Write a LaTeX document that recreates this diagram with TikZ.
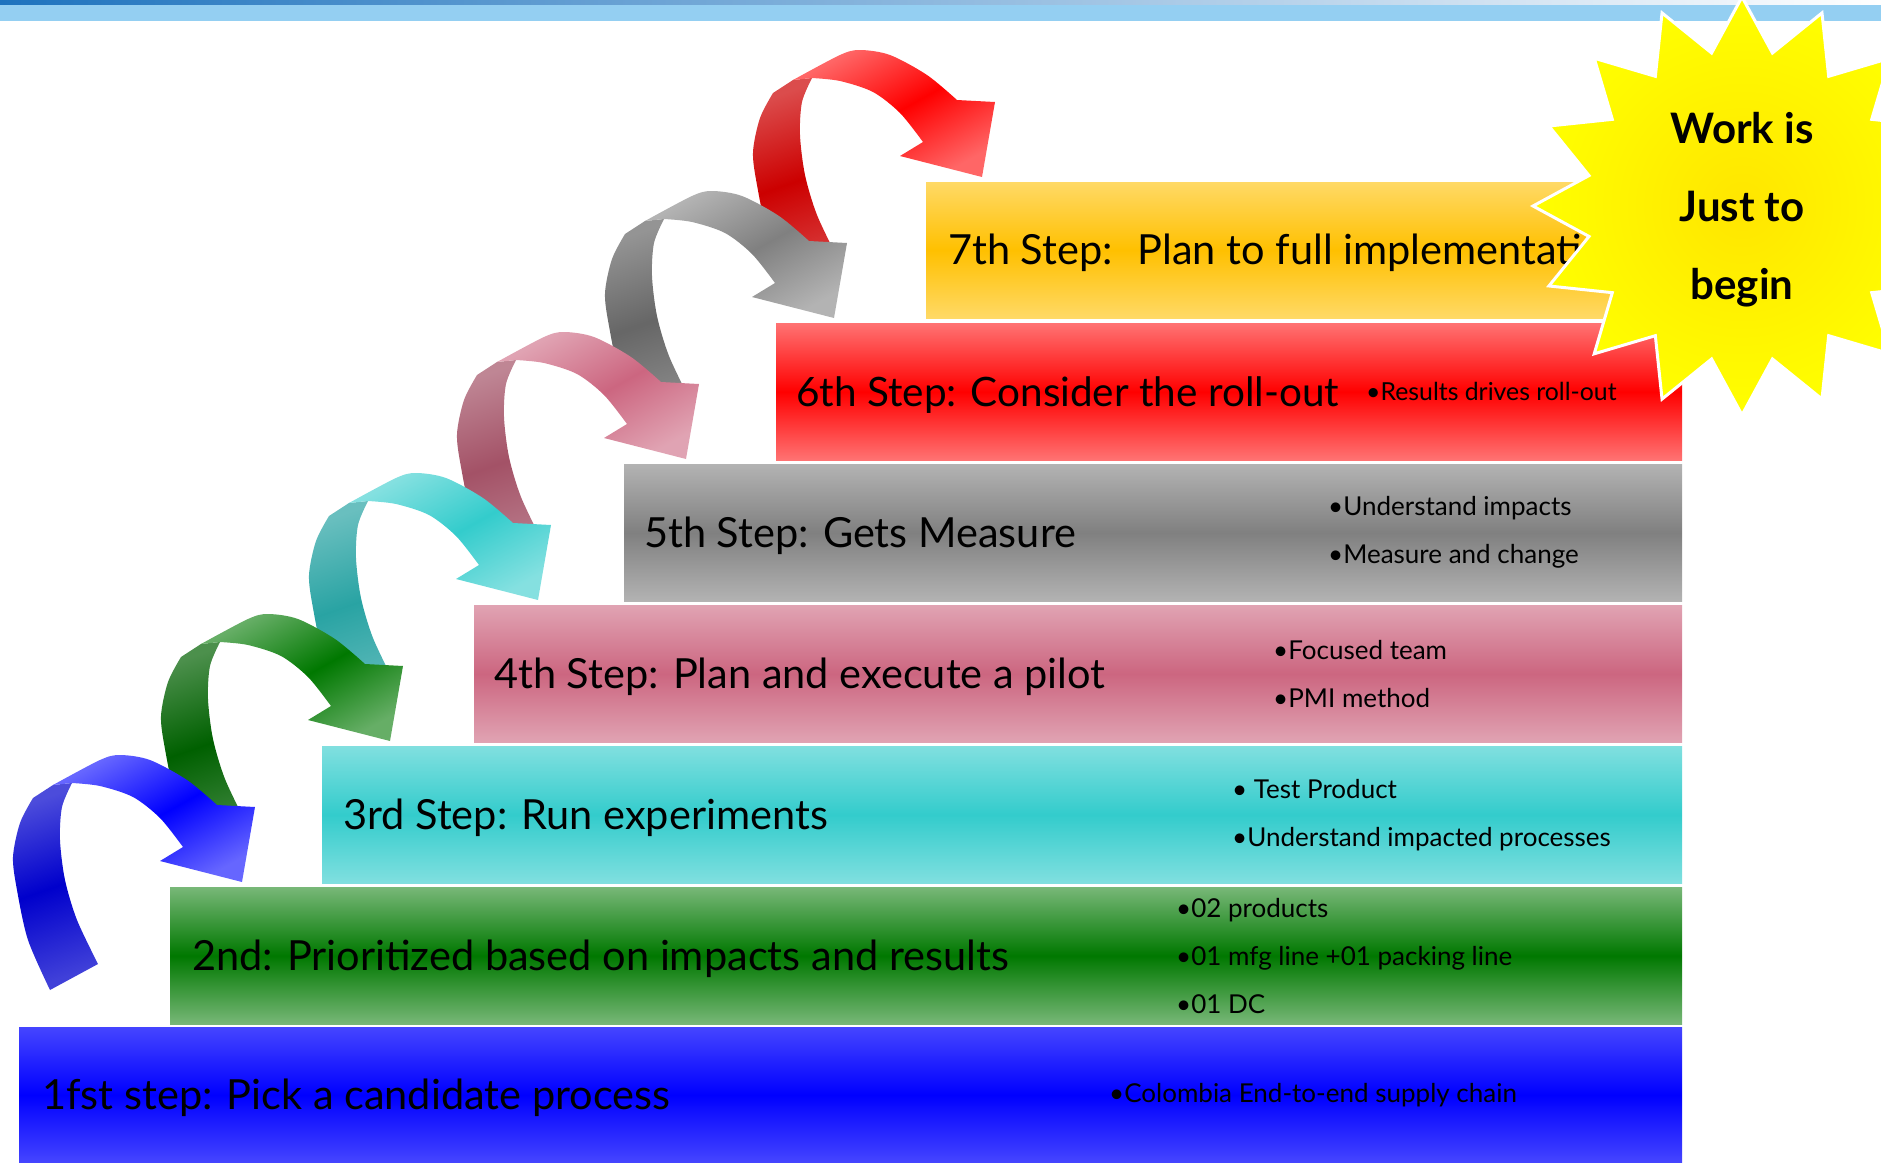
\documentclass[tikz,border=0pt]{standalone}
\usepackage{fontspec}
\setmainfont{Lato}
\usepackage{tikz}
\usepackage{xcolor}
\usetikzlibrary{shapes.geometric, positioning}

\definecolor{stepblue}{RGB}{0,0,255}
\definecolor{stepgreen}{RGB}{0,120,0}
\definecolor{stepcyan}{RGB}{51,204,204}
\definecolor{steppink}{RGB}{204,102,128}
\definecolor{stepgray}{RGB}{128,128,128}
\definecolor{stepred}{RGB}{255,0,0}
\definecolor{stepgold}{RGB}{255,192,0}
\definecolor{topblue}{RGB}{30,115,190}
\definecolor{barblue}{RGB}{148,207,242}

\tikzstyle{stepbox} = [rectangle, anchor=north west, inner sep=0, minimum height=137pt]
\tikzstyle{steptext} = [inner sep=0, yshift=-3pt, font=\fontsize{41.5}{44}\selectfont]
\tikzstyle{bullettext} = [inner sep=0, align=left, font=\fontsize{26}{48}\selectfont]
\tikzstyle{burst} = [star, star points=16, star point ratio=1.34, minimum size=418pt, draw=white, line width=3pt, inner color=yellow!80!orange, outer color=yellow]
\tikzstyle{startext} = [inner sep=0, align=center, font=\fontsize{42}{78}\selectfont\bfseries]
\tikzset{stepshade/.style 2 args={top color=#1!#2!white, bottom color=#1!#2!white, middle color=#1}}

% curled ribbon arrow: #1,#2 = anchor, #3 = colour
\newcommand{\curlyarrow}[3]{%
  \begin{scope}[shift={(#1,#2)}]
    \shade[top color=#3!80!black!70!white, bottom color=#3!80!black!75!white, middle color=#3!80!black, shading angle=19]
      plot[smooth] coordinates {(-120,103) (-142,53) (-153,3) (-157,-30) (-150,-64) (-137,-89)}
      -- (-117,-102) -- (-98,-104)
      -- plot[smooth] coordinates {(-98,-104) (-108,-80) (-110,-47) (-105,-7) (-93,33) (-72,77)} -- cycle;
    \shade[top color=#3!60!white, bottom color=#3!60!white, middle color=#3, shading angle=29]
      plot[smooth] coordinates {(-117,-102) (-70,-127) (-50,-132) (-20,-127) (17,-107) (47,-82)}
      -- (85,-80) -- (72,-5) -- (-10,-26) -- (13,-40)
      -- plot[smooth] coordinates {(13,-40) (-10,-69) (-37,-90) (-70,-101) (-98,-104)} -- cycle;
  \end{scope}}

\begin{document}
\begin{tikzpicture}[x=1pt, y=-1pt]
\useasboundingbox (0,0) rectangle (1881,1162);

% top band
\shade[left color=topblue, right color=white] (0,0) rectangle (1881,5);
\fill[barblue] (0,5) rectangle (1881,21);

% the seven steps
\node[stepbox, stepshade={stepblue}{73}, minimum width=1663pt, minimum height=135pt] (S1) at (19,1027) {};
\node[stepbox, stepshade={stepgreen}{53}, minimum width=1512pt] (S2) at (170,887) {};
\node[stepbox, stepshade={stepcyan}{62}, minimum width=1360pt] (S3) at (322,746) {};
\node[stepbox, stepshade={steppink}{60}, minimum width=1208pt] (S4) at (474,605) {};
\node[stepbox, stepshade={stepgray}{60}, minimum width=1058pt] (S5) at (624,464) {};
\node[stepbox, stepshade={stepred}{55}, minimum width=906pt] (S6) at (776,323) {};
\node[stepbox, stepshade={stepgold}{60}, minimum width=756pt, minimum height=136pt] (S7) at (926,182) {};

\node[steptext, right=23pt of S1.west] (T1) {1fst step: Pick a candidate process};
\node[steptext, right=22pt of S2.west] (T2) {2nd: Prioritized based on impacts and results};
\node[steptext, right=21pt of S3.west] (T3) {3rd Step: Run experiments};
\node[steptext, right=20pt of S4.west] (T4) {4th Step: Plan and execute a pilot};
\node[steptext, right=20pt of S5.west] (T5) {5th Step: Gets Measure};
\node[steptext, right=20pt of S6.west, font=\fontsize{40.5}{44}\selectfont] (T6) {6th Step: Consider the roll-out};
\node[steptext, right=22pt of S7.west] (T7) {7th Step:~ Plan to full implementation};

\node[bullettext, right=1090pt of S1.west] (B1) {•Colombia End-to-end supply chain};
\node[bullettext, right=1006pt of S2.west] (B2) {•02 products\\•01 mfg line +01 packing line\\•01 DC};
\node[bullettext, right=910pt of S3.west] (B3) {• Test Product\\•Understand impacted processes};
\node[bullettext, right=799pt of S4.west] (B4) {•Focused team\\•PMI method};
\node[bullettext, right=704pt of S5.west] (B5) {•Understand impacts\\•Measure and change};
\node[bullettext, right=590pt of S6.west, font=\fontsize{24.8}{48}\selectfont] (B6) {•Results drives roll-out};

% arrows from step to step, each head over the next tail
\curlyarrow{910}{182}{stepred}
\curlyarrow{762}{323}{stepgray}
\curlyarrow{614}{464}{steppink}
\curlyarrow{466}{605}{stepcyan}
\curlyarrow{318}{746}{stepgreen}
\curlyarrow{170}{887}{stepblue}

% burst
\node[burst] (star) at (1742,206) {};
\node[startext] (W) at ([yshift=-4pt]star.center) {Work is\\Just to\\begin};

\end{tikzpicture}
\end{document}
